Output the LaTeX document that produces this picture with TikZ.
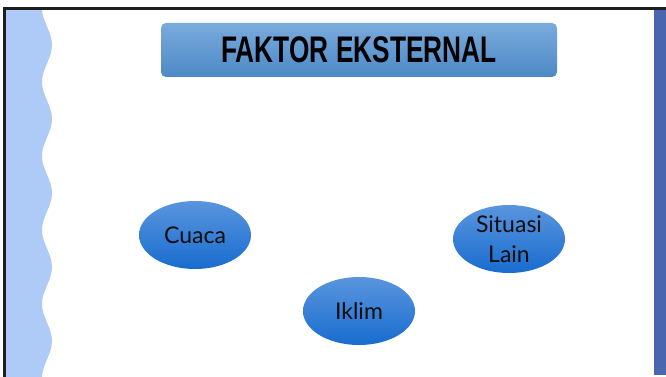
\documentclass[tikz,border=0pt]{standalone}
\usepackage{fontspec}
\setmainfont{Lato}
\newfontfamily\titlefont{Liberation Sans}
\usepackage{graphicx}
\usepackage{xcolor}
\usepackage{tikz}
\usetikzlibrary{shapes.geometric,positioning}
\definecolor{wavebg}{HTML}{AECBF7}
\definecolor{sidebar}{HTML}{4A66AE}
\definecolor{titletop}{HTML}{7AABDD}
\definecolor{titlebot}{HTML}{4C89C6}
\definecolor{elltop}{HTML}{5A95DE}
\definecolor{ellbot}{HTML}{186CCF}
\definecolor{frameline}{HTML}{1E1E1E}

\begin{document}
\begin{tikzpicture}[x=1pt, y=-1pt,
    titlebox/.style={rectangle, rounded corners=5pt, minimum width=396pt, minimum height=54pt, top color=titletop, bottom color=titlebot, inner sep=0pt},
    factor/.style={ellipse, minimum width=112pt, minimum height=68pt, top color=elltop, bottom color=ellbot, inner sep=0pt, align=center, font=\fontsize{23}{30}\selectfont, text=black!95}]
    \useasboundingbox (0,0) rectangle (666,377);

    % Wavy band
    \fill[wavebg] (6,9) -- plot[domain=9:377, samples=120, smooth] ({47+5*cos(4.865*(\x-45))}, \x) -- (6,377) -- cycle;

    % Frame
    \fill[frameline] (3,7) rectangle (666,10);
    \fill[frameline] (3,7) rectangle (6,377);
    \fill[sidebar] (654,10) rectangle (666,375);

    % Title
    \node[titlebox] (title) at (359,50) {\titlefont\bfseries\fontsize{37}{40}\selectfont\scalebox{0.71}[1]{FAKTOR EKSTERNAL}};

    % Factors
    \node[factor] (cuaca) at (195,235) {Cuaca};
    \node[factor] (iklim) at (359,311) {Iklim};
    \node[factor] (lain) at (509,239) {Situasi\\Lain};
\end{tikzpicture}
\end{document}
